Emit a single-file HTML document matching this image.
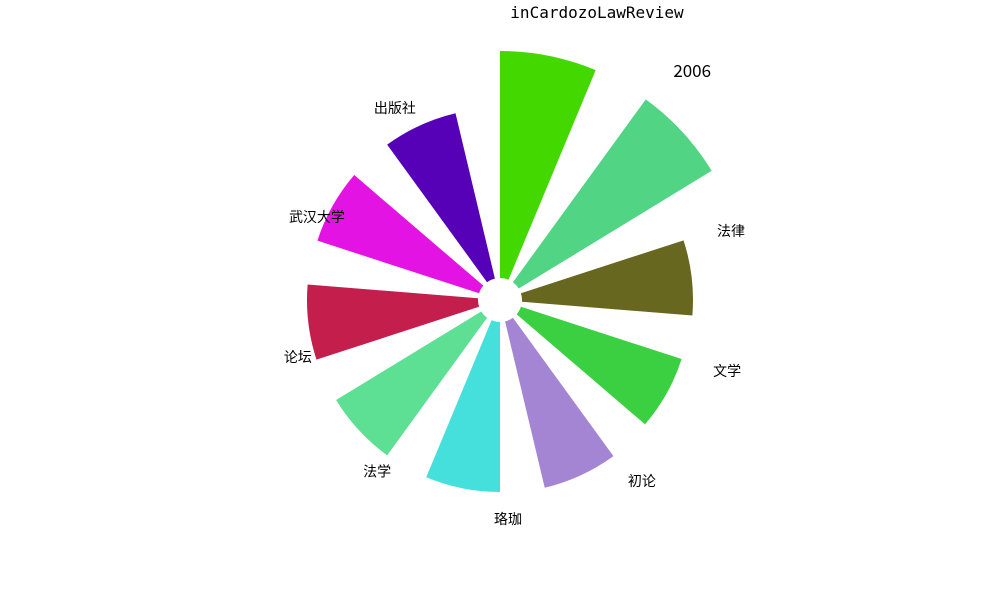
<!DOCTYPE html>
<html><head><meta charset="utf-8"><style>
body{margin:0;background:#fff;width:1000px;height:600px;overflow:hidden}
svg{display:block}
text{font-family:"WenQuanYi Zen Hei","Noto Sans CJK SC",sans-serif;fill:#000}
</style></head><body>
<svg id="chart" width="1000" height="600" viewBox="0 0 1000 600">
<text x="597" y="18" text-anchor="middle" font-size="16" style="font-family:'DejaVu Sans Mono','Liberation Mono',monospace">inCardozoLawReview</text>
<g id="bars"></g>
<g id="labels"></g>
</svg>
<script>
const categories = ["", "2006", "法律", "文学", "初论", "珞珈", "法学", "论坛", "武汉大学", "出版社"];
const values = [227, 226, 171, 169, 171, 170, 170, 171, 170, 170];
const colors = ["#43d800","#52d485","#68671f","#3ad041","#a485d3","#46e0dc","#5ddf94","#c41e4c","#e213e3","#5600b8"];
const cx = 500, cy = 300, inner = 22, rScale = 1, widthDeg = 22.6, stepDeg = 36;
const labelAng = [0, 40, 73.4, 107.4, 141.9, 177.9, 215.6, 254.2, 294.4, 331.3];
const labelRad = [0, 299, 241, 238, 230, 219, 211, 210, 201, 219];
const ns = "http://www.w3.org/2000/svg";
function pt(r, deg){const a = deg*Math.PI/180; return [cx + r*Math.sin(a), cy - r*Math.cos(a)];}
const bars = document.getElementById('bars');
values.forEach((v,i)=>{
  const a0 = i*stepDeg, a1 = a0 + widthDeg, ro = inner + v*rScale;
  const p1 = pt(inner,a0), p2 = pt(ro,a0), p3 = pt(ro,a1), p4 = pt(inner,a1);
  const path = document.createElementNS(ns,'path');
  path.setAttribute('d',`M${p1} L${p2} A${ro} ${ro} 0 0 1 ${p3} L${p4} A${inner} ${inner} 0 0 0 ${p1}Z`);
  path.setAttribute('fill',colors[i]);
  
  
  bars.appendChild(path);
});
const labels = document.getElementById('labels');
categories.forEach((c,i)=>{
  if(!c) return;
  const p = pt(labelRad[i], labelAng[i]);
  const t = document.createElementNS(ns,'text');
  t.setAttribute('x',p[0]); t.setAttribute('y',p[1]+ (c==="2006"?6:5));
  t.setAttribute('text-anchor','middle');
  t.setAttribute('font-size', c==="2006" ? 17 : 14);
  t.textContent = c;
  
  
  labels.appendChild(t);
});
</script>
</body></html>
